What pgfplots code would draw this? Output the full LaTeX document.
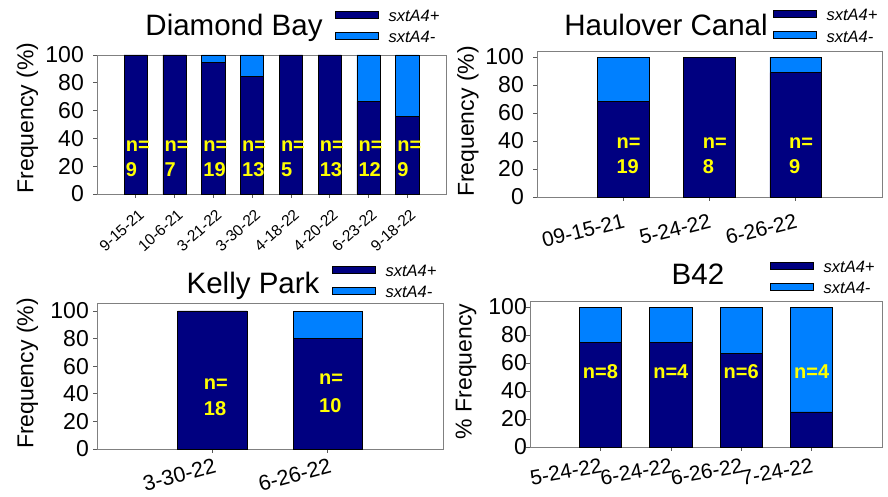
\documentclass[border=0pt]{standalone}
\usepackage{fontspec}
\setmainfont{Liberation Sans}
\usepackage{pgfplots}
\pgfplotsset{compat=1.18}

\definecolor{posblue}{HTML}{000080}
\definecolor{negblue}{HTML}{0080FF}
\definecolor{nyellow}{HTML}{FFFF00}

\pgfplotsset{
  freqbars/.style={
    scale only axis,
    anchor=south west,
    ybar stacked,
    bar width=0.6,
    ymin=0,
    ytick={0,20,...,100},
    axis line style={gray},
    tick align=outside,
    major tick length=4bp,
    tick style={gray!70!black, line width=0.6bp},
    xtick pos=bottom, ytick pos=left,
    /pgf/number format/assume math mode=true,
    yticklabel style={font=\fontsize{23bp}{27bp}\selectfont, inner sep=0pt},
    ylabel style={font=\fontsize{23bp}{27bp}\selectfont, anchor=center},
    legend style={draw=none, fill=none, inner sep=0pt, outer sep=0pt,
      row sep=0pt, column sep=10bp, anchor=north west,
      font=\fontsize{16.5bp}{20bp}\selectfont\itshape,
      nodes={inner sep=0pt, text height=13.5bp, text depth=8bp}},
    legend cell align=left,
    legend image code/.code={\draw[#1] (0bp,0.5bp) rectangle (43bp,7.5bp);},
    clip=false,
  },
  % transparent twin axis that carries the sample-size labels above the bars
  labelaxis/.style={scale only axis, anchor=south west, hide axis, clip=false, ymin=0},
  poss/.style={fill=posblue, draw=black, line width=0.6bp},
  negs/.style={fill=negblue, draw=black, line width=0.6bp},
  geomDB/.style={at={(97bp,303bp)}, width=349bp, height=139bp, xmin=-1, xmax=8, ymax=100},
  geomHC/.style={at={(537bp,300bp)}, width=345bp, height=146bp, xmin=-1, xmax=3, ymax=104.3},
  geomKP/.style={at={(97bp,48bp)}, width=346bp, height=146bp, xmin=-1, xmax=2, ymax=105.8},
  geomB/.style={at={(530bp,50bp)}, width=352bp, height=146bp, xmin=-1, xmax=4, ymax=104.3},
}
\tikzset{
  nlab/.style={text=nyellow, font=\bfseries\fontsize{20bp}{24bp}\selectfont, inner sep=0pt},
  ttl/.style={anchor=base, font=\fontsize{29.5bp}{35bp}\selectfont, inner sep=0pt},
}

\begin{document}
\begin{tikzpicture}[x=1bp,y=1bp]
\useasboundingbox (0,0) rectangle (888,497);

% Diamond Bay
\begin{axis}[freqbars, geomDB,
  xtick={0,...,7},
  xticklabels={9-15-21,10-6-21,3-21-22,3-30-22,4-18-22,4-20-22,6-23-22,9-18-22},
  xticklabel style={font=\fontsize{15.5bp}{18bp}\selectfont, inner sep=0pt,
    xshift=2bp, yshift=-10bp, rotate=42, anchor=north east},
  yticklabel style={xshift=-9bp},
  ylabel={Frequency (\%)},
  ylabel style={at={(axis description cs:-0.199,0.547)}},
  legend style={at={(axis description cs:0.682,1.340)}},
]
\addplot[poss] coordinates {(0,100) (1,100) (2,94.7) (3,84.6) (4,100) (5,100) (6,66.7) (7,55.6)};
\addplot[negs] coordinates {(0,0) (1,0) (2,5.3) (3,15.4) (4,0) (5,0) (6,33.3) (7,44.4)};
\legend{sxtA4+,sxtA4-}
\node[ttl] at (axis description cs:0.3926,1.137) {Diamond Bay};
\end{axis}
\begin{axis}[labelaxis, geomDB]
\node[nlab, anchor=base west] at (axis cs:-0.26,30.4) {n=};
\node[nlab, anchor=base west] at (axis cs:-0.26,12.4) {9};
\node[nlab, anchor=base west] at (axis cs:0.74,30.4) {n=};
\node[nlab, anchor=base west] at (axis cs:0.74,12.4) {7};
\node[nlab, anchor=base west] at (axis cs:1.74,30.4) {n=};
\node[nlab, anchor=base west] at (axis cs:1.74,12.4) {19};
\node[nlab, anchor=base west] at (axis cs:2.74,30.4) {n=};
\node[nlab, anchor=base west] at (axis cs:2.74,12.4) {13};
\node[nlab, anchor=base west] at (axis cs:3.74,30.4) {n=};
\node[nlab, anchor=base west] at (axis cs:3.74,12.4) {5};
\node[nlab, anchor=base west] at (axis cs:4.74,30.4) {n=};
\node[nlab, anchor=base west] at (axis cs:4.74,12.4) {13};
\node[nlab, anchor=base west] at (axis cs:5.74,30.4) {n=};
\node[nlab, anchor=base west] at (axis cs:5.74,12.4) {12};
\node[nlab, anchor=base west] at (axis cs:6.74,30.4) {n=};
\node[nlab, anchor=base west] at (axis cs:6.74,12.4) {9};
\end{axis}

% Haulover Canal
\begin{axis}[freqbars, geomHC,
  xtick={0,1,2},
  xticklabels={09-15-21,5-24-22,6-26-22},
  xticklabel style={font=\fontsize{21bp}{25bp}\selectfont, inner sep=0pt,
    xshift=-1bp, yshift=-12bp, rotate=14, anchor=north east},
  yticklabel style={xshift=-9bp},
  ylabel={Frequency (\%)},
  ylabel style={at={(axis description cs:-0.2,0.517)}},
  legend style={at={(axis description cs:0.684,1.301)}},
]
\addplot[poss] coordinates {(0,68.4) (1,100) (2,88.9)};
\addplot[negs] coordinates {(0,31.6) (1,0) (2,11.1)};
\legend{sxtA4+,sxtA4-}
\node[ttl] at (axis description cs:0.374,1.103) {Haulover Canal};
\end{axis}
\begin{axis}[labelaxis, geomHC]
\node[nlab, anchor=base west] at (axis cs:-0.08,34.8) {n=};
\node[nlab, anchor=base west] at (axis cs:-0.08,16.9) {19};
\node[nlab, anchor=base west] at (axis cs:0.92,34.8) {n=};
\node[nlab, anchor=base west] at (axis cs:0.92,16.9) {8};
\node[nlab, anchor=base west] at (axis cs:1.92,34.8) {n=};
\node[nlab, anchor=base west] at (axis cs:1.92,16.9) {9};
\end{axis}

% Kelly Park
\begin{axis}[freqbars, geomKP,
  xtick={0,1},
  xticklabels={3-30-22,6-26-22},
  xticklabel style={font=\fontsize{21.5bp}{25bp}\selectfont, inner sep=0pt,
    xshift=1bp, yshift=-5bp, rotate=15, anchor=north east},
  yticklabel style={xshift=-4bp},
  ylabel={Frequency (\%)},
  ylabel style={at={(axis description cs:-0.201,0.517)}},
  legend style={at={(axis description cs:0.679,1.277)}},
]
\addplot[poss] coordinates {(0,100) (1,80)};
\addplot[negs] coordinates {(0,0) (1,20)};
\legend{sxtA4+,sxtA4-}
\node[ttl] at (axis description cs:0.451,1.066) {Kelly Park};
\end{axis}
\begin{axis}[labelaxis, geomKP]
\node[nlab, anchor=base west] at (axis cs:-0.075,42.8) {n=};
\node[nlab, anchor=base west] at (axis cs:-0.075,24.6) {18};
\node[nlab, anchor=base west] at (axis cs:0.925,46.4) {n=};
\node[nlab, anchor=base west] at (axis cs:0.925,26.6) {10};
\end{axis}

% B42
\begin{axis}[freqbars, geomB,
  xtick={0,...,3},
  xticklabels={5-24-22,6-24-22,6-26-22,7-24-22},
  xticklabel style={font=\fontsize{21bp}{25bp}\selectfont, inner sep=0pt,
    xshift=0bp, yshift=-7bp, rotate=10, anchor=north east},
  yticklabel style={xshift=1bp},
  ylabel={\% Frequency},
  ylabel style={at={(axis description cs:-0.182,0.517)}},
  legend style={at={(axis description cs:0.682,1.288)}},
]
\addplot[poss] coordinates {(0,75) (1,75) (2,66.7) (3,25)};
\addplot[negs] coordinates {(0,25) (1,25) (2,33.3) (3,75)};
\legend{sxtA4+,sxtA4-}
\node[ttl] at (axis description cs:0.477,1.11) {B42};
\end{axis}
\begin{axis}[labelaxis, geomB]
\node[nlab, anchor=base] at (axis cs:0,49) {n=8};
\node[nlab, anchor=base] at (axis cs:1,49) {n=4};
\node[nlab, anchor=base] at (axis cs:2,49) {n=6};
\node[nlab, anchor=base] at (axis cs:3,49) {n=4};
\end{axis}
\end{tikzpicture}
\end{document}
